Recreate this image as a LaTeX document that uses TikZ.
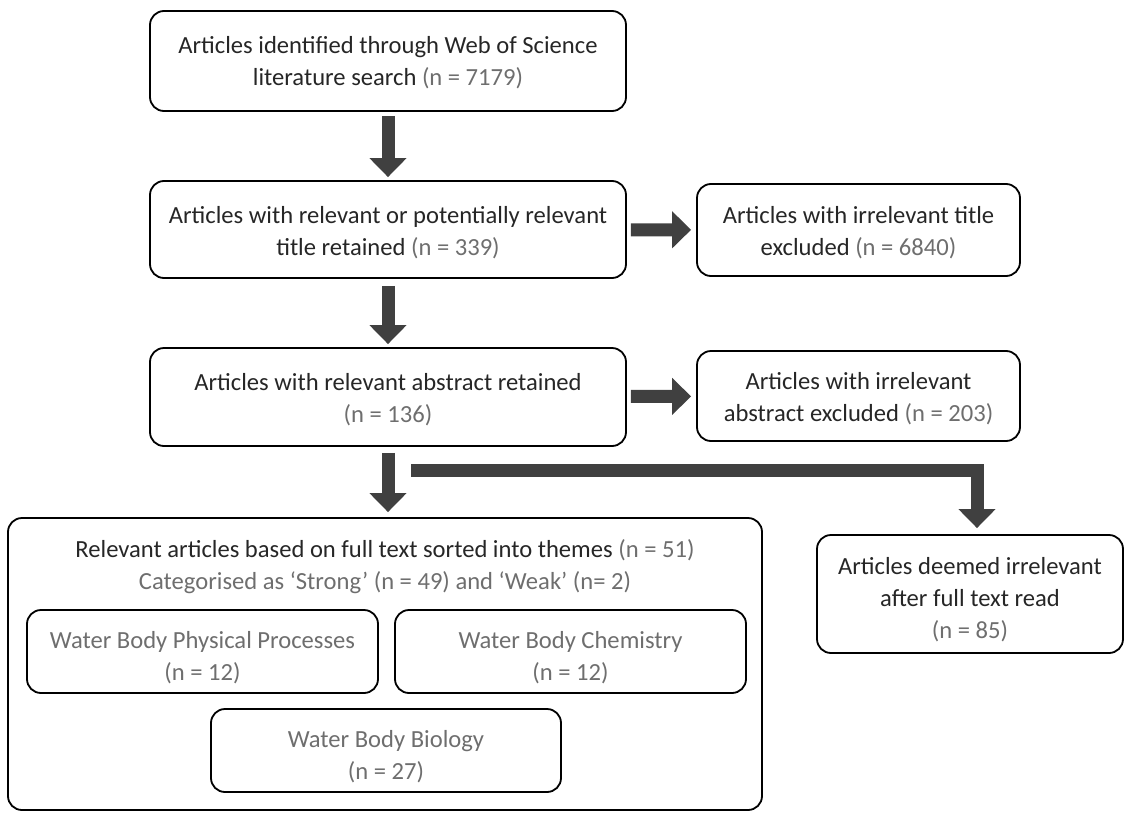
\documentclass[tikz,border=0pt]{standalone}
\usepackage{fontspec}
\setmainfont{Carlito}
\usetikzlibrary{arrows.meta}
\definecolor{arrowgray}{HTML}{404040}
\definecolor{ngray}{HTML}{6E6E6E}
\newcommand{\nval}[1]{\textcolor{ngray}{#1}}

\begin{document}
\begin{tikzpicture}[x=0.5pt, y=-0.5pt,
        box/.style={draw, line width=0.9pt, rounded corners=7pt, inner sep=0pt},
        boxtext/.style={align=center, inner sep=0pt, font=\fontsize{12.3}{16}\selectfont, text=black!85},
        subtext/.style={boxtext, text=ngray},
        blockarrow/.style={draw=arrowgray, line width=6.5pt, -{Triangle[width=18pt,length=9.5pt]}}]
        \useasboundingbox (0,0) rectangle (1132,814);

        \node[box, minimum width=238pt, minimum height=50pt] (search) at (388, 61) {};
        \node[boxtext] (searchtext) at ([yshift=-1pt]search)
            {Articles identified through Web of Science\\literature search \nval{(n = 7179)}};
        \node[box, minimum width=238pt, minimum height=48.5pt] (title) at (388, 229.5) {};
        \node[boxtext] (titletext) at ([yshift=-1.5pt]title)
            {Articles with relevant or potentially relevant\\title retained \nval{(n = 339)}};
        \node[box, minimum width=161.5pt, minimum height=46pt] (titleout) at (858.5, 230) {};
        \node[boxtext] (titleouttext) at ([yshift=-1.5pt]titleout)
            {Articles with irrelevant title\\excluded \nval{(n = 6840)}};
        \node[box, minimum width=238pt, minimum height=49pt] (abstract) at (388, 397) {};
        \node[boxtext] (abstracttext) at ([yshift=-1.5pt]abstract)
            {Articles with relevant abstract retained\\\nval{(n = 136)}};
        \node[box, minimum width=161.5pt, minimum height=45pt] (abstractout) at (858.5, 396) {};
        \node[boxtext] (abstractouttext) at ([yshift=-1.5pt]abstractout)
            {Articles with irrelevant\\abstract excluded \nval{(n = 203)}};

        \node[box, minimum width=377pt, minimum height=146pt] (themes) at (385, 664) {};
        \node[boxtext] (themestitle) at (385, 567)
            {Relevant articles based on full text sorted into themes \nval{(n = 51)}\\
            \nval{Categorised as ‘Strong’ (n = 49) and ‘Weak’ (n= 2)}};
        \node[box, minimum width=175.5pt, minimum height=41.5pt] (physical) at (202.5, 651.5) {};
        \node[subtext] (physicaltext) at ([yshift=-3pt]physical)
            {Water Body Physical Processes\\(n = 12)};
        \node[box, minimum width=175.5pt, minimum height=41.5pt] (chemistry) at (570.5, 651.5) {};
        \node[subtext] (chemistrytext) at ([yshift=-3pt]chemistry)
            {Water Body Chemistry\\(n = 12)};
        \node[box, minimum width=175pt, minimum height=41.5pt] (biology) at (386, 750.5) {};
        \node[subtext] (biologytext) at ([yshift=-3pt]biology)
            {Water Body Biology\\(n = 27)};

        \node[box, minimum width=153pt, minimum height=59pt] (fulltextout) at (970, 594) {};
        \node[boxtext] (fulltextouttext) at ([yshift=-3pt]fulltextout)
            {Articles deemed irrelevant\\after full text read\\\nval{(n = 85)}};

        \draw[blockarrow, shorten <=2pt, shorten >=1.5pt] (search) -- (title);
        \draw[blockarrow, shorten <=3.5pt, shorten >=1.5pt] (title) -- (abstract);
        \draw[blockarrow, shorten <=3pt, shorten >=2.5pt] (abstract.south) -- (abstract.south |- themes.north);
        \draw[blockarrow, shorten <=2pt, shorten >=2.5pt] (title) -- (titleout);
        \draw[blockarrow, shorten <=2pt, shorten >=2.5pt] (abstract) -- (abstractout);

        \coordinate (split) at (411, 470);
        \draw[blockarrow, shorten >=3pt] (split) -| ([xshift=3.5pt]fulltextout.north);
    \end{tikzpicture}
\end{document}
